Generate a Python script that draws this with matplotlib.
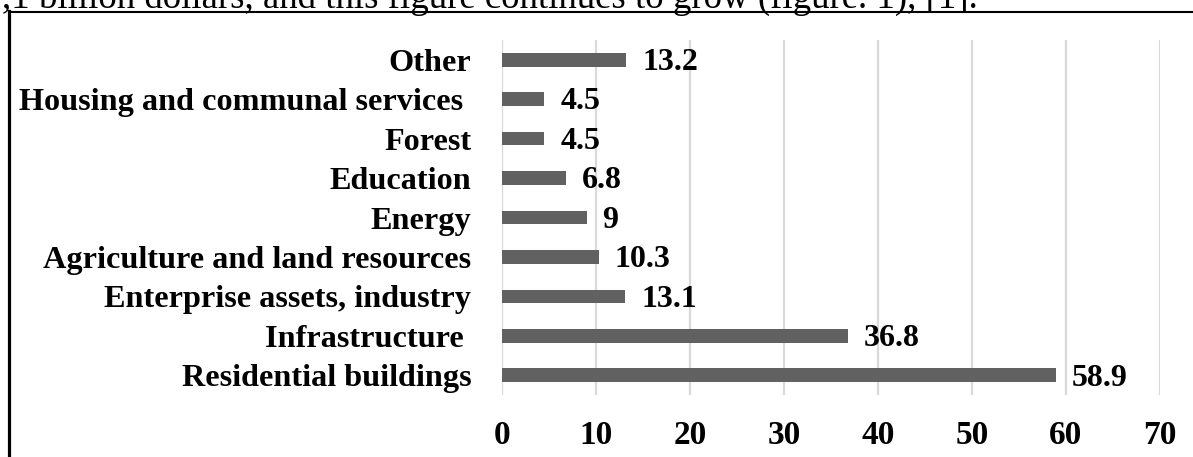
import matplotlib
matplotlib.use("Agg")
import matplotlib.pyplot as plt
from matplotlib.lines import Line2D

categories = ["Residential buildings", "Infrastructure ", "Enterprise assets, industry",
              "Agriculture and land resources", "Energy", "Education", "Forest",
              "Housing and communal services ", "Other"]
values = [58.9, 36.8, 13.1, 10.3, 9, 6.8, 4.5, 4.5, 13.2]
value_labels = ["58.9", "36.8", "13.1", "10.3", "9", "6.8", "4.5", "4.5", "13.2"]
xticks = [0, 10, 20, 30, 40, 50, 60, 70]
caption = ",1 billion dollars, and this figure continues to grow (figure. 1), [1]."

W, H = 1193, 457
fig = plt.figure(figsize=(W / 100, H / 100), dpi=100)
plt.rcParams['font.family'] = ['Liberation Serif', 'DejaVu Serif']

ax = fig.add_axes([502 / W, 1 - 395 / H, (1160 - 502) / W, (395 - 40) / H])
y = list(range(len(categories)))
ax.barh(y, values, height=0.345, color="#616161", zorder=3)
ax.set_xlim(0, 70)
ax.set_ylim(-0.5, len(categories) - 0.5)
ax.set_xticks(xticks)
ax.set_xticklabels([str(t) for t in xticks], fontsize=24, fontweight='bold')
ax.set_yticks(y)
ax.set_yticklabels(categories, fontsize=23.2, fontweight='bold')
ax.tick_params(axis='x', length=0, pad=18)
ax.tick_params(axis='y', length=0, pad=22)
ax.grid(axis='x', color="#d9d9d9", linewidth=1.6, zorder=0)
for s in ax.spines.values():
    s.set_visible(False)

for yi, v, lab in zip(y, values, value_labels):
    ax.annotate(lab, (v, yi), xytext=(11.5, -2), textcoords='offset points',
                ha='left', va='center', fontsize=23, fontweight='bold')

# Caption text (cut off at top) and border lines
fig.text(2 / W, 1 - 7.5 / H, caption, fontsize=26.5, ha='left', va='baseline')
fig.add_artist(Line2D([8.5 / W, 1.0], [1 - 12 / H, 1 - 12 / H], color='black', linewidth=1.5,
                      transform=fig.transFigure))
fig.add_artist(Line2D([8.5 / W, 8.5 / W], [1 - 11 / H, 0], color='black', linewidth=2.3,
                      transform=fig.transFigure))

fig.savefig("out.png", dpi=100)
